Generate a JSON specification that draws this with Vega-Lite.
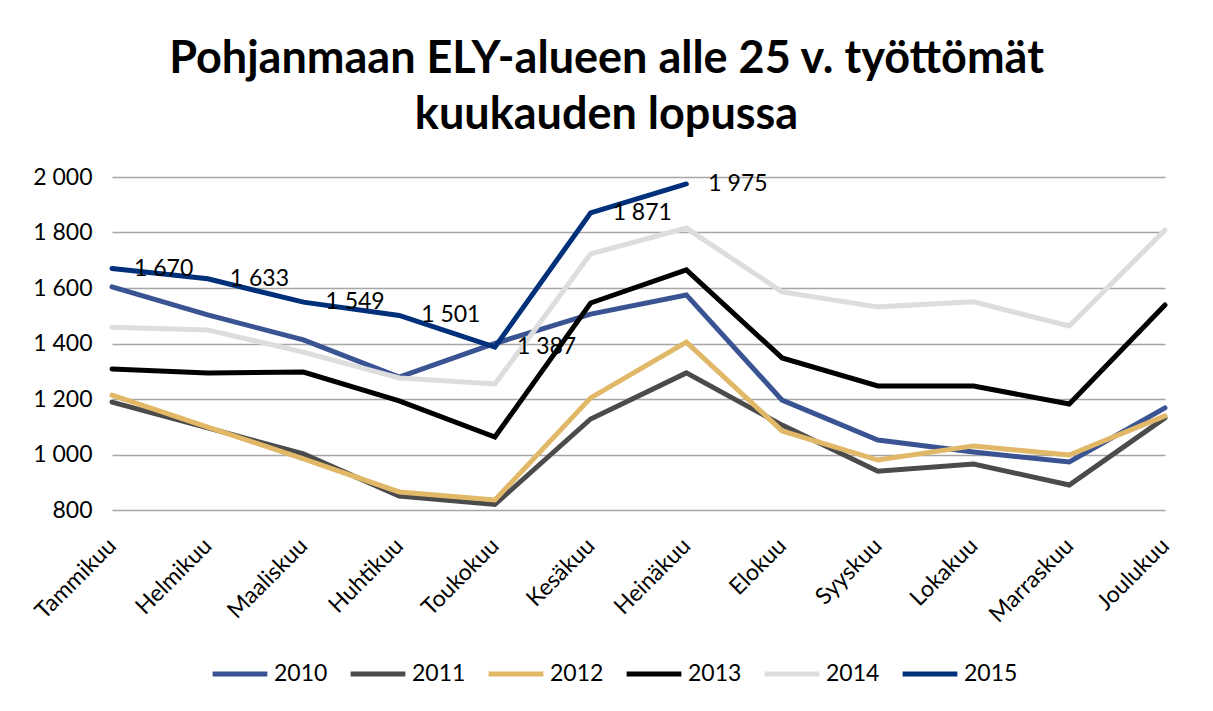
{
  "$schema": "https://vega.github.io/schema/vega-lite/v6.json",
  "width": 1053,
  "height": 333,
  "autosize": {"type": "none"},
  "padding": {"left": 112, "top": 177, "right": 48, "bottom": 201},
  "background": "white",
  "config": {
    "font": "Lato",
    "view": {"stroke": null},
    "locale": {"number": {"decimal": ",", "thousands": " ", "grouping": [3], "currency": ["", " €"]}}
  },
  "title": {
    "text": ["Pohjanmaan ELY-alueen alle 25 v. työttömät", "kuukauden lopussa"],
    "fontSize": 45,
    "fontWeight": "bold",
    "color": "#000000",
    "anchor": "middle",
    "frame": "group",
    "dx": -32,
    "offset": 28,
    "lineHeight": 56
  },
  "data": {
    "values": [
      {"month": "Tammikuu", "year": "2010", "value": 1604},
      {"month": "Helmikuu", "year": "2010", "value": 1503},
      {"month": "Maaliskuu", "year": "2010", "value": 1413},
      {"month": "Huhtikuu", "year": "2010", "value": 1279},
      {"month": "Toukokuu", "year": "2010", "value": 1400},
      {"month": "Kesäkuu", "year": "2010", "value": 1506},
      {"month": "Heinäkuu", "year": "2010", "value": 1575},
      {"month": "Elokuu", "year": "2010", "value": 1196},
      {"month": "Syyskuu", "year": "2010", "value": 1052},
      {"month": "Lokakuu", "year": "2010", "value": 1009},
      {"month": "Marraskuu", "year": "2010", "value": 973},
      {"month": "Joulukuu", "year": "2010", "value": 1168},
      {"month": "Tammikuu", "year": "2011", "value": 1189},
      {"month": "Helmikuu", "year": "2011", "value": 1096},
      {"month": "Maaliskuu", "year": "2011", "value": 1002},
      {"month": "Huhtikuu", "year": "2011", "value": 850},
      {"month": "Toukokuu", "year": "2011", "value": 820},
      {"month": "Kesäkuu", "year": "2011", "value": 1128},
      {"month": "Heinäkuu", "year": "2011", "value": 1294},
      {"month": "Elokuu", "year": "2011", "value": 1106},
      {"month": "Syyskuu", "year": "2011", "value": 940},
      {"month": "Lokakuu", "year": "2011", "value": 966},
      {"month": "Marraskuu", "year": "2011", "value": 890},
      {"month": "Joulukuu", "year": "2011", "value": 1132},
      {"month": "Tammikuu", "year": "2012", "value": 1214},
      {"month": "Helmikuu", "year": "2012", "value": 1099},
      {"month": "Maaliskuu", "year": "2012", "value": 984},
      {"month": "Huhtikuu", "year": "2012", "value": 865},
      {"month": "Toukokuu", "year": "2012", "value": 836},
      {"month": "Kesäkuu", "year": "2012", "value": 1204},
      {"month": "Heinäkuu", "year": "2012", "value": 1405},
      {"month": "Elokuu", "year": "2012", "value": 1085},
      {"month": "Syyskuu", "year": "2012", "value": 980},
      {"month": "Lokakuu", "year": "2012", "value": 1031},
      {"month": "Marraskuu", "year": "2012", "value": 998},
      {"month": "Joulukuu", "year": "2012", "value": 1139},
      {"month": "Tammikuu", "year": "2013", "value": 1308},
      {"month": "Helmikuu", "year": "2013", "value": 1294},
      {"month": "Maaliskuu", "year": "2013", "value": 1297},
      {"month": "Huhtikuu", "year": "2013", "value": 1193},
      {"month": "Toukokuu", "year": "2013", "value": 1063},
      {"month": "Kesäkuu", "year": "2013", "value": 1546},
      {"month": "Heinäkuu", "year": "2013", "value": 1665},
      {"month": "Elokuu", "year": "2013", "value": 1348},
      {"month": "Syyskuu", "year": "2013", "value": 1247},
      {"month": "Lokakuu", "year": "2013", "value": 1247},
      {"month": "Marraskuu", "year": "2013", "value": 1182},
      {"month": "Joulukuu", "year": "2013", "value": 1539},
      {"month": "Tammikuu", "year": "2014", "value": 1459},
      {"month": "Helmikuu", "year": "2014", "value": 1449},
      {"month": "Maaliskuu", "year": "2014", "value": 1369},
      {"month": "Huhtikuu", "year": "2014", "value": 1276},
      {"month": "Toukokuu", "year": "2014", "value": 1254},
      {"month": "Kesäkuu", "year": "2014", "value": 1723},
      {"month": "Heinäkuu", "year": "2014", "value": 1816},
      {"month": "Elokuu", "year": "2014", "value": 1586},
      {"month": "Syyskuu", "year": "2014", "value": 1532},
      {"month": "Lokakuu", "year": "2014", "value": 1550},
      {"month": "Marraskuu", "year": "2014", "value": 1463},
      {"month": "Joulukuu", "year": "2014", "value": 1809},
      {"month": "Tammikuu", "year": "2015", "value": 1670},
      {"month": "Helmikuu", "year": "2015", "value": 1633},
      {"month": "Maaliskuu", "year": "2015", "value": 1549},
      {"month": "Huhtikuu", "year": "2015", "value": 1501},
      {"month": "Toukokuu", "year": "2015", "value": 1387},
      {"month": "Kesäkuu", "year": "2015", "value": 1871},
      {"month": "Heinäkuu", "year": "2015", "value": 1975}
    ]
  },
  "encoding": {
    "x": {
      "field": "month",
      "type": "nominal",
      "sort": ["Tammikuu", "Helmikuu", "Maaliskuu", "Huhtikuu", "Toukokuu", "Kesäkuu", "Heinäkuu", "Elokuu", "Syyskuu", "Lokakuu", "Marraskuu", "Joulukuu"],
      "scale": {"type": "point", "padding": 0},
      "axis": {
        "title": null,
        "domain": false,
        "ticks": false,
        "grid": false,
        "labelAngle": -45,
        "labelAlign": "right",
        "labelBaseline": "middle",
        "labelFontSize": 23,
        "labelColor": "#000000",
        "labelPadding": 32
      }
    },
    "y": {
      "field": "value",
      "type": "quantitative",
      "scale": {"domain": [800, 2000], "nice": false, "zero": false},
      "axis": {
        "title": null,
        "values": [800, 1000, 1200, 1400, 1600, 1800, 2000],
        "format": ",d",
        "domain": false,
        "ticks": false,
        "grid": true,
        "gridColor": "#A6A6A6",
        "gridWidth": 1.5,
        "labelFontSize": 23,
        "labelColor": "#000000",
        "labelPadding": 20
      }
    }
  },
  "layer": [
    {
      "mark": {"type": "line", "strokeWidth": 5, "strokeJoin": "miter", "strokeCap": "round"},
      "encoding": {
        "color": {
          "field": "year",
          "type": "nominal",
          "scale": {
            "domain": ["2010", "2011", "2012", "2013", "2014", "2015"],
            "range": ["#3A5393", "#4B4B4B", "#E0B868", "#000000", "#DDDDDD", "#00307A"]
          },
          "legend": {
            "title": null,
            "orient": "none",
            "direction": "horizontal",
            "legendX": 98,
            "legendY": 467,
            "symbolType": "stroke",
            "symbolStrokeWidth": 5,
            "symbolSize": 3000,
            "labelFontSize": 23,
            "labelColor": "#000000",
            "labelOffset": 4,
            "columnPadding": 12
          }
        }
      }
    },
    {
      "transform": [{"filter": "datum.year == '2015'"}],
      "mark": {"type": "text", "align": "left", "baseline": "middle", "dx": 22, "fontSize": 23, "color": "#000000"},
      "encoding": {
        "text": {"field": "value", "type": "quantitative", "format": ",d"}
      }
    }
  ]
}
